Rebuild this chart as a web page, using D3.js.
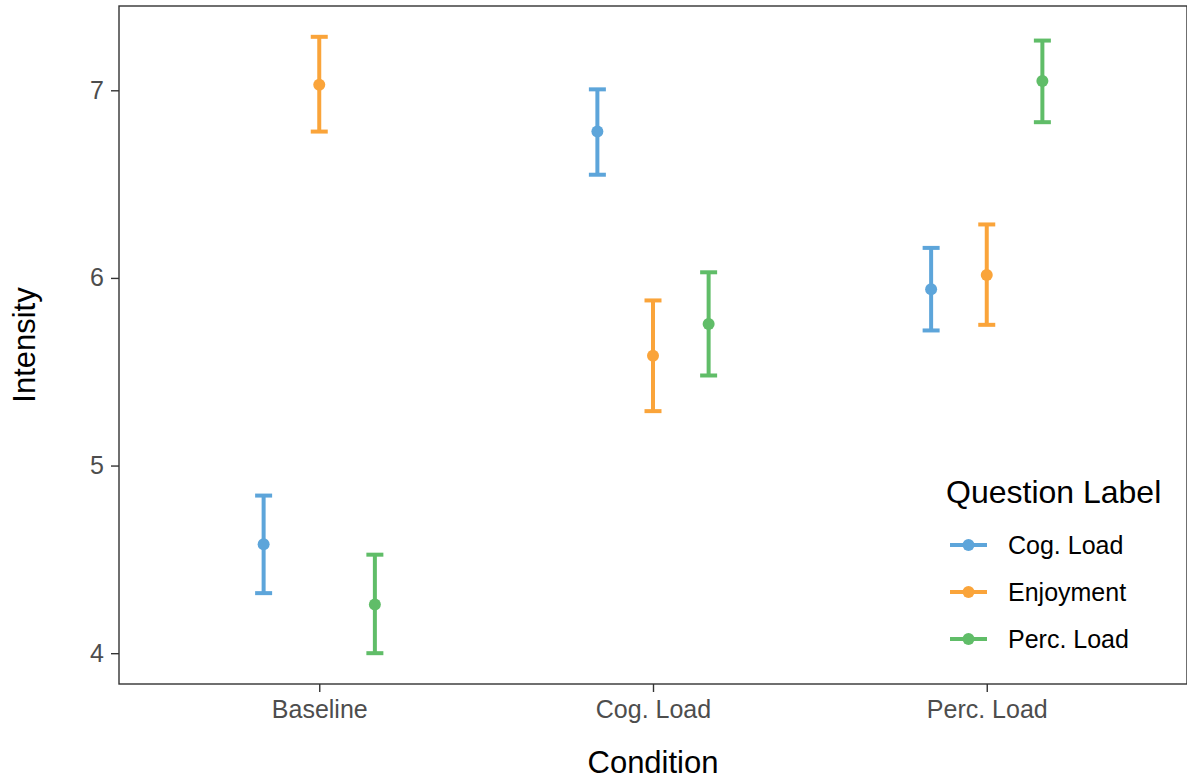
<!DOCTYPE html>
<html>
<head>
<meta charset="utf-8">
<script src="https://cdn.jsdelivr.net/npm/d3@7"></script>
<style>
  body { margin: 0; background: #fff; }
  text { font-family: "Liberation Sans", Arial, Helvetica, sans-serif; }
</style>
</head>
<body>
<div id="chart-area"></div>
<script>
const conditions = ["Baseline", "Cog. Load", "Perc. Load"]
const questions = ["Cog. Load", "Enjoyment", "Perc. Load"]
const colors = ["#5DA5DA", "#FAA43A", "#60BD68"]

// mean and CI per question, in the order of conditions
const cogMean = [4.58, 6.78, 5.94]
const cogLow = [4.32, 6.55, 5.72]
const cogHigh = [4.84, 7.005, 6.16]
const enjMean = [7.03, 5.585, 6.015]
const enjLow = [6.78, 5.29, 5.75]
const enjHigh = [7.285, 5.88, 6.285]
const percMean = [4.26, 5.755, 7.05]
const percLow = [4.0, 5.48, 6.83]
const percHigh = [4.525, 6.03, 7.265]
const yTicks = [4, 5, 6, 7]

const MARGIN = { LEFT: 119, RIGHT: 0, TOP: 6, BOTTOM: 97 }
const W = 1187, H = 781
const WIDTH = W - MARGIN.LEFT - MARGIN.RIGHT
const HEIGHT = H - MARGIN.TOP - MARGIN.BOTTOM

const means = [cogMean, enjMean, percMean]
const lows = [cogLow, enjLow, percLow]
const highs = [cogHigh, enjHigh, percHigh]

const data = []
questions.forEach((q, qi) => {
  conditions.forEach((c, ci) => {
    data.push({ cond: c, q: q, qi: qi, mean: means[qi][ci], low: lows[qi][ci], high: highs[qi][ci] })
  })
})

const svg = d3.select("#chart-area")
  .append("svg")
    .attr("width", W)
    .attr("height", H)

const g = svg.append("g")
  .attr("transform", `translate(${MARGIN.LEFT}, ${MARGIN.TOP})`)

// x: discrete, ggplot-like expansion of 0.6 units
const x = d3.scalePoint()
  .domain(conditions)
  .range([0, WIDTH])
  .padding(0.6)

const dodge = x.step() * 0.5 / questions.length
const xOff = d3.scalePoint().domain(questions).range([-dodge, dodge])

// y: 5% expansion of the data range
const yMin = d3.min(data, d => d.low), yMax = d3.max(data, d => d.high)
const pad = (yMax - yMin) * 0.05
const y = d3.scaleLinear()
  .domain([yMin - pad, yMax + pad])
  .range([HEIGHT, 0])

const color = d3.scaleOrdinal().domain(questions).range(colors)

// axes
const yAxis = g.append("g")
  .call(d3.axisLeft(y).tickValues(yTicks).tickFormat(d3.format("d")).tickSize(8).tickPadding(7))
yAxis.select(".domain").remove()
yAxis.selectAll("line").attr("stroke", "#333").attr("stroke-width", 1.4)
yAxis.selectAll("text").attr("fill", "#4d4d4d").attr("font-size", "25px")

const xAxis = g.append("g")
  .attr("transform", `translate(0, ${HEIGHT})`)
  .call(d3.axisBottom(x).tickSize(8).tickPadding(8))
xAxis.select(".domain").remove()
xAxis.selectAll("line").attr("stroke", "#333").attr("stroke-width", 1.4)
xAxis.selectAll("text").attr("fill", "#4d4d4d").attr("font-size", "25px")

// panel border
g.append("rect")
  .attr("x", 0).attr("y", 0)
  .attr("width", WIDTH).attr("height", HEIGHT)
  .attr("fill", "none")
  .attr("stroke", "#333")
  .attr("stroke-width", 1.4)

// error bars
const capW = 8.5
const bars = g.selectAll(".bar").data(data).enter().append("g")
  .attr("class", "bar")
  .attr("transform", d => `translate(${x(d.cond) + xOff(d.q)}, 0)`)
  .attr("stroke", d => color(d.q))
  .attr("stroke-width", 4)

bars.append("line")
  .attr("x1", 0).attr("x2", 0)
  .attr("y1", d => y(d.low)).attr("y2", d => y(d.high))
bars.append("line")
  .attr("x1", -capW).attr("x2", capW)
  .attr("y1", d => y(d.low)).attr("y2", d => y(d.low))
bars.append("line")
  .attr("x1", -capW).attr("x2", capW)
  .attr("y1", d => y(d.high)).attr("y2", d => y(d.high))
bars.append("circle")
  .attr("cx", 0).attr("cy", d => y(d.mean))
  .attr("r", 6)
  .attr("stroke", "none")
  .attr("fill", d => color(d.q))

// axis titles
svg.append("text")
  .attr("x", MARGIN.LEFT + WIDTH / 2)
  .attr("y", 773)
  .attr("font-size", "31px")
  .attr("text-anchor", "middle")
  .text("Condition")

svg.append("text")
  .attr("transform", `translate(35, ${MARGIN.TOP + HEIGHT / 2}) rotate(-90)`)
  .attr("font-size", "31px")
  .attr("text-anchor", "middle")
  .text("Intensity")

// legend
const legend = svg.append("g").attr("transform", "translate(946, 0)")
legend.append("text")
  .attr("x", 0).attr("y", 503)
  .attr("font-size", "32px")
  .text("Question Label")

const items = legend.selectAll(".item").data(questions).enter().append("g")
  .attr("class", "item")
  .attr("transform", (d, i) => `translate(0, ${545 + i * 47})`)
items.append("line")
  .attr("x1", 4).attr("x2", 41)
  .attr("stroke", d => color(d))
  .attr("stroke-width", 4)
items.append("circle")
  .attr("cx", 22.5).attr("r", 6)
  .attr("fill", d => color(d))
items.append("text")
  .attr("x", 62)
  .attr("dy", "0.35em")
  .attr("font-size", "25px")
  .text(d => d)
</script>
</body>
</html>
